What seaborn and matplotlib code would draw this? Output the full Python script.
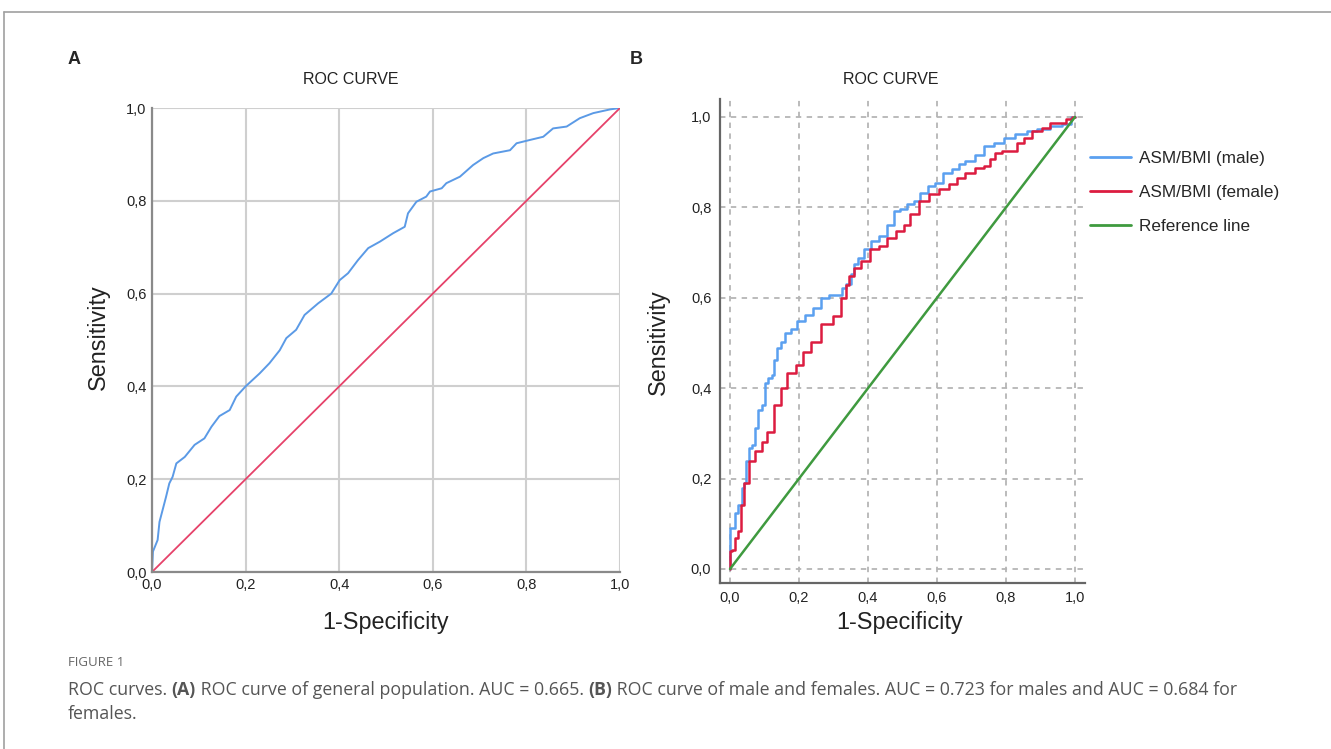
import matplotlib
matplotlib.use("Agg")
import matplotlib.pyplot as plt
import pandas as pd
import numpy as np
import seaborn as sns
from matplotlib.lines import Line2D

# panel A: general population
fpr_all = [0, .002, .012, .016, .03, .037, .044, .052, .07, .091, .112, .127, .144, .166, .18, .2,
           .23, .251, .273, .287, .308, .326, .355, .383, .401, .419, .44, .462, .487, .515, .54,
           .547, .565, .586, .594, .619, .629, .658, .686, .708, .729, .765, .779, .807, .836,
           .857, .886, .914, .943, .979, 1]
tpr_all = [0, .044, .069, .108, .162, .191, .205, .234, .248, .274, .288, .313, .336, .349, .378, .40,
           .428, .45, .478, .504, .522, .554, .579, .60, .629, .644, .672, .698, .712, .73, .744,
           .773, .798, .809, .82, .827, .838, .852, .877, .892, .902, .909, .924, .931, .938,
           .956, .96, .978, .989, .997, 1]

# panel B: male
fpr_male = [0, 0, .012, .016, .031, .036, .045, .048, .06, .07, .077, .085, .099, .104, .118, .128,
            .129, .142, .152, .166, .186, .205, .229, .253, .272, .301, .321, .33, .345, .355, .365,
            .379, .399, .418, .447, .466, .484, .503, .522, .542, .561, .586, .605, .629, .658,
            .668, .697, .726, .745, .784, .803, .851, .871, .909, .948, .977, 1]
tpr_male = [0, .091, .091, .124, .142, .179, .19, .238, .267, .275, .312, .352, .363, .411, .422, .43,
            .463, .488, .503, .523, .53, .548, .563, .578, .60, .607, .607, .622, .63, .652, .674,
            .689, .707, .725, .737, .762, .792, .796, .807, .814, .832, .847, .855, .877, .884,
            .895, .903, .917, .936, .943, .954, .962, .969, .973, .98, .984, 1]

# panel B: female
fpr_female = [0, .002, .012, .019, .029, .036, .048, .06, .085, .099, .118, .137, .157, .176, .205,
              .219, .248, .282, .316, .33, .34, .35, .369, .393, .418, .447, .466, .494, .513, .532,
              .561, .591, .62, .649, .668, .697, .726, .745, .764, .774, .803, .822, .842, .861,
              .89, .919, .938, .967, .982, 1]
tpr_female = [0, .039, .043, .069, .083, .142, .19, .238, .26, .282, .304, .363, .40, .433, .452,
              .481, .503, .541, .559, .60, .629, .648, .666, .681, .707, .714, .733, .748, .762, .785,
              .814, .829, .84, .851, .866, .877, .888, .892, .906, .921, .925, .925, .943, .954,
              .969, .976, .987, .987, .995, 1]

ticks = [0, 0.2, 0.4, 0.6, 0.8, 1.0]
tick_labels = ["0,0", "0,2", "0,4", "0,6", "0,8", "1,0"]

sns.set_style("white")
plt.rcParams["font.family"] = ["Liberation Sans", "DejaVu Sans"]

W, H = 1331, 749
fig = plt.figure(figsize=(W / 100, H / 100), dpi=100)


def px(x, y):
    return x / W, 1 - y / H


# outer frame (top and left edge)
fig.add_artist(Line2D([4 / W, 1], [1 - 12 / H, 1 - 12 / H], color="#a0a0a0", lw=1.2))
fig.add_artist(Line2D([4 / W, 4 / W], [0, 1 - 12 / H], color="#a0a0a0", lw=1.2))

# ---- panel A
axA = fig.add_axes([152 / W, (H - 572) / H, 468 / W, 464 / H])
dfA = pd.DataFrame({"fpr": fpr_all, "tpr": tpr_all})
sns.lineplot(data=dfA, x="fpr", y="tpr", ax=axA, color="#5b9ae6", lw=1.4, sort=False, estimator=None)
axA.plot([0, 1], [0, 1], color="#e6426a", lw=1.3)
axA.set_xlim(0, 1)
axA.set_ylim(0, 1)
axA.set_xticks(ticks)
axA.set_xticklabels(tick_labels)
axA.set_yticks(ticks)
axA.set_yticklabels(tick_labels)
axA.grid(True, color="#cfcfcf", lw=1.5)
axA.set_axisbelow(True)
for s in ["top", "right"]:
    axA.spines[s].set_visible(False)
for s in ["left", "bottom"]:
    axA.spines[s].set_color("#8a8a8a")
    axA.spines[s].set_linewidth(1.6)
axA.tick_params(axis="both", length=0, labelsize=10.5, colors="#222222", pad=4)
axA.set_xlabel("")
axA.set_ylabel("")

# ---- panel B
x0, x1 = -0.03, 1.03
y0, y1 = -0.03, 1.04
left = 730 + x0 * 345
bot = 569 - y0 * 452
top = 569 - y1 * 452
axB = fig.add_axes([left / W, (H - bot) / H, (x1 - x0) * 345 / W, (bot - top) / H])
dfB = pd.DataFrame({
    "fpr": fpr_male + fpr_female,
    "tpr": tpr_male + tpr_female,
    "group": ["ASM/BMI (male)"] * len(fpr_male) + ["ASM/BMI (female)"] * len(fpr_female),
})
sns.lineplot(data=dfB, x="fpr", y="tpr", hue="group", ax=axB, sort=False, estimator=None,
             palette={"ASM/BMI (male)": "#5ba0f0", "ASM/BMI (female)": "#dc1c40"}, lw=1.8,
             legend=False, drawstyle="steps-mid")
axB.plot([0, 1], [0, 1], color="#3f9a3f", lw=1.8)
axB.set_xlim(x0, x1)
axB.set_ylim(y0, y1)
axB.set_xticks(ticks)
axB.set_xticklabels(tick_labels)
axB.set_yticks(ticks)
axB.set_yticklabels(tick_labels)
axB.grid(True, color="#b5b5b5", lw=1.3, linestyle=(0, (3, 3)))
axB.set_axisbelow(True)
for s in ["top", "right"]:
    axB.spines[s].set_visible(False)
for s in ["left", "bottom"]:
    axB.spines[s].set_color("#666666")
    axB.spines[s].set_linewidth(1.6)
axB.tick_params(axis="both", length=0, labelsize=10.5, colors="#222222", pad=6)
axB.set_xlabel("")
axB.set_ylabel("")

handles = [Line2D([], [], color="#5ba0f0", lw=2),
           Line2D([], [], color="#dc1c40", lw=2),
           Line2D([], [], color="#3f9a3f", lw=2)]
fig.legend(handles, ["ASM/BMI (male)", "ASM/BMI (female)", "Reference line"],
           loc="upper left", bbox_to_anchor=px(1075, 136), frameon=False, fontsize=12.3,
           handlelength=2.4, handletextpad=0.45, labelspacing=1.1)

# titles and axis labels
fig.text(*px(351, 79), "ROC CURVE", ha="center", va="center", fontsize=11.5, color="#222222")
fig.text(*px(891, 79), "ROC CURVE", ha="center", va="center", fontsize=11.5, color="#222222")
fig.text(*px(74, 60), "A", ha="center", va="center", fontsize=13, fontweight="bold")
fig.text(*px(636, 60), "B", ha="center", va="center", fontsize=13, fontweight="bold")
fig.text(*px(98, 337), "Sensitivity", ha="center", va="center", rotation=90, fontsize=16.8, color="#222222")
fig.text(*px(658, 342), "Sensitivity", ha="center", va="center", rotation=90, fontsize=16.8, color="#222222")
fig.text(*px(386, 623), "1-Specificity", ha="center", va="center", fontsize=16.8, color="#222222")
fig.text(*px(900, 623), "1-Specificity", ha="center", va="center", fontsize=16.8, color="#222222")

# caption
cap_font = ["Open Sans", "DejaVu Sans"]
fig.text(*px(68, 662), "FIGURE 1", ha="left", va="center", fontsize=9.5, color="#666666", family=cap_font)
renderer = fig.canvas.get_renderer()
pieces = [("ROC curves. ", "normal"), ("(A)", "bold"),
          (" ROC curve of general population. AUC = 0.665. ", "normal"), ("(B)", "bold"),
          (" ROC curve of male and females. AUC = 0.723 for males and AUC = 0.684 for", "normal")]
xpos = 68
for txt, wt in pieces:
    t = fig.text(*px(xpos, 690), txt, ha="left", va="center", fontsize=12.8, color="#555555",
                 family=cap_font, fontweight=wt)
    bb = t.get_window_extent(renderer)
    xpos += bb.width
fig.text(*px(68, 714), "females.", ha="left", va="center", fontsize=12.8, color="#555555", family=cap_font)

fig.savefig("out.png", dpi=100)
